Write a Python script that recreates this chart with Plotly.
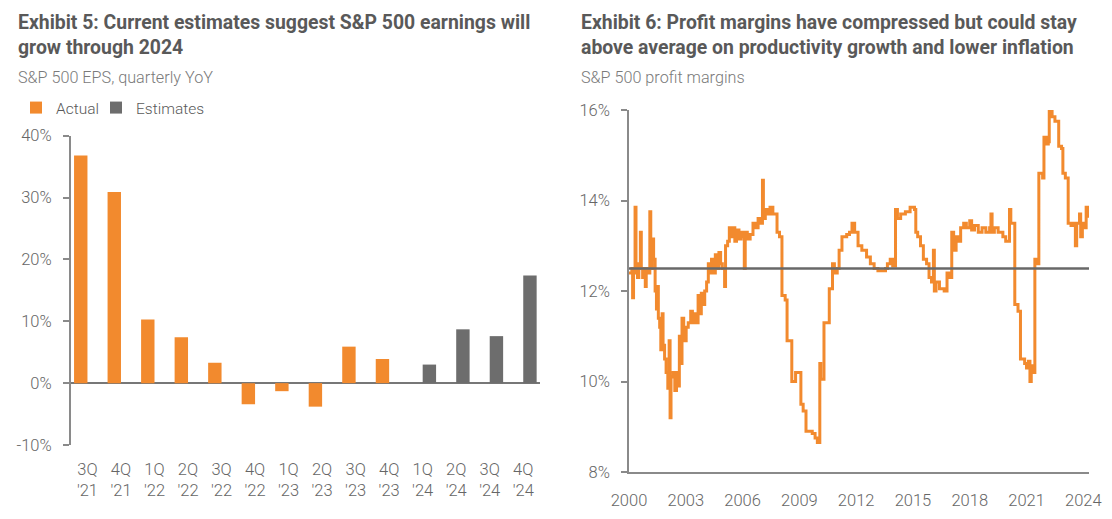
import plotly.graph_objects as go

# ---------------- Data: Exhibit 5 (S&P 500 EPS, quarterly YoY, %) ----------------
quarters = ["3Q '21", "4Q '21", "1Q '22", "2Q '22", "3Q '22", "4Q '22", "1Q '23",
            "2Q '23", "3Q '23", "4Q '23", "1Q '24", "2Q '24", "3Q '24", "4Q '24"]
eps_actual = [36.8, 30.9, 10.3, 7.4, 3.3, -3.4, -1.3, -3.8, 5.9, 3.9,
              None, None, None, None]
eps_estimates = [None, None, None, None, None, None, None, None, None, None,
                 3.0, 8.7, 7.6, 17.4]
eps_ticks = [-10, 0, 10, 20, 30, 40]

# ---------------- Data: Exhibit 6 (S&P 500 profit margins, %) ----------------
margin_years = [
    2000.00, 2000.15, 2000.19, 2000.24, 2000.32, 2000.37, 2000.45, 2000.52, 2000.60, 2000.65,
    2000.72, 2000.80, 2000.86, 2000.91, 2001.02, 2001.10, 2001.15, 2001.22, 2001.30, 2001.38,
    2001.45, 2001.50, 2001.55, 2001.62, 2001.68, 2001.75, 2001.80, 2001.88, 2001.96, 2002.05,
    2002.12, 2002.17, 2002.22, 2002.33, 2002.42, 2002.51, 2002.58, 2002.66, 2002.73, 2002.80,
    2002.89, 2003.02, 2003.13, 2003.26, 2003.35, 2003.45, 2003.55, 2003.65, 2003.72, 2003.82,
    2003.92, 2004.00, 2004.10, 2004.19, 2004.28, 2004.36, 2004.45, 2004.56, 2004.64, 2004.75,
    2004.84, 2004.93, 2005.05, 2005.10, 2005.21, 2005.30, 2005.40, 2005.50, 2005.59, 2005.68,
    2005.81, 2005.92, 2006.05, 2006.09, 2006.14, 2006.25, 2006.40, 2006.55, 2006.70, 2006.82,
    2006.93, 2007.05, 2007.10, 2007.20, 2007.30, 2007.45, 2007.60, 2007.82, 2007.95, 2008.08,
    2008.25, 2008.35, 2008.60, 2008.80, 2009.08, 2009.20, 2009.35, 2009.68, 2009.83, 2009.95,
    2010.08, 2010.13, 2010.30, 2010.58, 2010.75, 2010.85, 2011.00, 2011.10, 2011.25, 2011.50,
    2011.65, 2011.78, 2011.92, 2012.10, 2012.30, 2012.55, 2012.75, 2012.95, 2013.15, 2013.55,
    2013.65, 2013.80, 2013.93, 2014.08, 2014.18, 2014.35, 2014.60, 2014.85, 2015.08, 2015.15,
    2015.25, 2015.40, 2015.55, 2015.72, 2015.85, 2015.98, 2016.08, 2016.13, 2016.22, 2016.40,
    2016.65, 2016.80, 2016.92, 2017.05, 2017.15, 2017.28, 2017.40, 2017.52, 2017.68, 2017.82,
    2018.00, 2018.10, 2018.25, 2018.45, 2018.65, 2018.85, 2019.05, 2019.12, 2019.18, 2019.30,
    2019.50, 2019.75, 2019.90, 2020.10, 2020.17, 2020.38, 2020.55, 2020.68, 2020.90, 2021.00,
    2021.10, 2021.18, 2021.25, 2021.32, 2021.44, 2021.58, 2021.65, 2021.85, 2021.92, 2022.05,
    2022.15, 2022.20, 2022.35, 2022.50, 2022.70, 2022.85, 2022.92, 2023.05, 2023.20, 2023.35,
    2023.50, 2023.58, 2023.65, 2023.80, 2023.86, 2023.95, 2024.08, 2024.15, 2024.22, 2024.30,
]
margin_values = [
    12.40, 12.50, 11.85, 12.40, 13.85, 12.50, 12.30, 12.60, 13.30, 12.50,
    12.30, 12.50, 12.10, 12.50, 12.40, 13.75, 12.50, 13.15, 12.70, 12.00,
    11.60, 12.10, 11.40, 11.20, 10.70, 11.50, 10.80, 10.50, 10.20, 9.85,
    10.90, 9.20, 10.10, 10.20, 9.80, 10.20, 9.90, 11.00, 10.40, 11.40,
    10.90, 11.20, 11.30, 11.55, 11.30, 11.50, 11.30, 11.90, 11.50, 11.95,
    11.70, 12.00, 12.20, 12.60, 12.40, 12.70, 12.40, 12.80, 12.50, 12.85,
    12.60, 12.50, 12.10, 13.00, 13.10, 13.40, 13.20, 13.40, 13.10, 13.35,
    13.15, 13.30, 13.20, 12.50, 13.30, 13.15, 13.25, 13.50, 13.40, 13.60,
    13.50, 14.45, 13.60, 13.80, 13.70, 13.85, 13.70, 13.30, 13.20, 11.90,
    11.80, 10.90, 10.00, 10.20, 9.50, 9.35, 8.90, 8.85, 8.75, 8.65,
    10.40, 10.05, 11.30, 12.05, 12.60, 12.40, 12.50, 12.90, 13.20, 13.25,
    13.30, 13.50, 13.30, 13.00, 12.90, 12.75, 12.60, 12.50, 12.45, 12.50,
    12.60, 12.70, 12.55, 13.80, 13.60, 13.70, 13.75, 13.85, 13.80, 13.30,
    13.20, 13.00, 12.70, 12.60, 12.30, 12.20, 12.90, 12.00, 12.20, 12.05,
    12.00, 12.40, 12.30, 13.30, 12.90, 13.20, 13.10, 13.40, 13.50, 13.40,
    13.55, 13.35, 13.45, 13.30, 13.40, 13.30, 13.40, 13.70, 13.30, 13.40,
    13.30, 13.20, 13.10, 13.80, 13.50, 11.70, 11.55, 10.50, 10.40, 10.30,
    10.45, 10.00, 10.35, 10.20, 12.70, 12.60, 14.60, 14.50, 15.40, 15.25,
    15.30, 16.00, 15.85, 15.75, 15.20, 15.15, 14.60, 14.50, 13.50, 13.45,
    13.50, 13.00, 13.50, 13.70, 13.20, 13.50, 13.40, 13.85, 13.65, 13.65,
]
avg_margin = 12.5

margin_year_ticks = [2000, 2003, 2006, 2009, 2012, 2015, 2018, 2021, 2024]
margin_pct_ticks = [8, 10, 12, 14, 16]

# ---------------- Styles ----------------
ORANGE = "#F28A2E"
GRAY_BAR = "#6D6D6D"
AVG_GRAY = "#686868"
AXIS_GRAY = "#8A8A8A"
TITLE_COLOR = "#595959"
SUB_COLOR = "#7A7A7A"
TICK_COLOR = "#666666"
TICK_FONT = dict(family="Roboto", size=16.5, color=TICK_COLOR, weight=300)
TITLE_FONT = dict(family="Roboto", size=19.4, color=TITLE_COLOR, weight=700)
SUB_FONT = dict(family="Roboto", size=16.2, color=SUB_COLOR, weight=300)
LEGEND_FONT = dict(family="Roboto", size=15.5, color=TITLE_COLOR, weight=300)

W, H = 1112, 519

tick_labels = [q.replace(" ", "<br>") for q in quarters]
pct = lambda v: f"{v}%"

fig = go.Figure()

fig.add_trace(go.Bar(
    x=quarters, y=eps_actual, name="Actual", legend="legend",
    marker=dict(color=ORANGE, line=dict(width=0)),
    xaxis="x", yaxis="y", hoverinfo="skip",
))
fig.add_trace(go.Bar(
    x=quarters, y=eps_estimates, name="Estimates", legend="legend2",
    marker=dict(color=GRAY_BAR, line=dict(width=0)),
    xaxis="x", yaxis="y", hoverinfo="skip",
))

fig.add_trace(go.Scatter(
    x=margin_years, y=margin_values, mode="lines",
    line=dict(color=ORANGE, width=3, shape="hv"),
    xaxis="x2", yaxis="y2", showlegend=False, hoverinfo="skip",
))
fig.add_trace(go.Scatter(
    x=[margin_years[0], margin_years[-1]], y=[avg_margin, avg_margin], mode="lines",
    line=dict(color=AVG_GRAY, width=2.5),
    xaxis="x2", yaxis="y2", showlegend=False, hoverinfo="skip",
))

legend_common = dict(
    orientation="h", yanchor="middle", xanchor="left", y=1 - 108 / H,
    font=LEGEND_FONT, itemwidth=30, bgcolor="rgba(0,0,0,0)",
)

fig.update_layout(
    template="none",
    width=W, height=H,
    margin=dict(l=0, r=0, t=0, b=0, autoexpand=False),
    paper_bgcolor="white", plot_bgcolor="white",
    barmode="group", bargap=0.2, bargroupgap=0.0,
    font=dict(family="Roboto", color=TICK_COLOR),
    showlegend=True,
    legend=dict(x=16 / W, **legend_common),
    legend2=dict(x=96 / W, **legend_common),
    xaxis=dict(
        domain=[70.7 / W, 540 / W], anchor="y", type="category", automargin=False,
        range=[-0.5, len(quarters) - 0.5],
        tickmode="array", tickvals=quarters, ticktext=tick_labels,
        showline=False, ticks="", showgrid=False, zeroline=False,
        tickfont=TICK_FONT, ticklabelstandoff=12,
    ),
    yaxis=dict(
        domain=[1 - 445 / H, 1 - 135.7 / H], anchor="x", automargin=False,
        range=[-10, 40], tickmode="array", tickvals=eps_ticks,
        ticktext=[pct(v) for v in eps_ticks],
        showline=True, linecolor=AXIS_GRAY, linewidth=1.5,
        ticks="outside", ticklen=6, tickwidth=1.5, tickcolor=AXIS_GRAY,
        showgrid=False, zeroline=True, zerolinecolor="#777777", zerolinewidth=1.5,
        tickfont=TICK_FONT, ticklabelstandoff=8,
    ),
    xaxis2=dict(
        domain=[629 / W, 1089 / W], anchor="y2", automargin=False,
        range=[2000, 2024.3], tickmode="array", tickvals=margin_year_ticks,
        ticktext=[str(v) for v in margin_year_ticks],
        showline=True, linecolor=AXIS_GRAY, linewidth=1.5,
        ticks="", showgrid=False, zeroline=False,
        tickfont=TICK_FONT, ticklabelstandoff=12,
    ),
    yaxis2=dict(
        domain=[1 - 472 / H, 1 - 110 / H], anchor="x2", automargin=False,
        range=[8, 16], tickmode="array", tickvals=margin_pct_ticks,
        ticktext=[pct(v) for v in margin_pct_ticks],
        showline=True, linecolor=AXIS_GRAY, linewidth=1.5,
        ticks="outside", ticklen=6, tickwidth=1.5, tickcolor=AXIS_GRAY,
        showgrid=False, zeroline=False,
        tickfont=TICK_FONT, ticklabelstandoff=8,
    ),
)

annotations = [
    dict(text="Exhibit 5: Current estimates suggest S&P 500 earnings will<br>grow through 2024",
         x=16 / W, y=1 - 8.5 / H, font=TITLE_FONT),
    dict(text="S&P 500 EPS, quarterly YoY", x=16 / W, y=1 - 66 / H, font=SUB_FONT),
    dict(text="Exhibit 6: Profit margins have compressed but could stay<br>above average on productivity growth and lower inflation",
         x=579 / W, y=1 - 8.5 / H, font=TITLE_FONT),
    dict(text="S&P 500 profit margins", x=579 / W, y=1 - 66 / H, font=SUB_FONT),
]
for a in annotations:
    fig.add_annotation(xref="paper", yref="paper", xanchor="left", yanchor="top",
                       align="left", showarrow=False, **a)

fig.write_html("out.html", config={"displayModeBar": False},
               post_script="document.body.style.margin='0';")
